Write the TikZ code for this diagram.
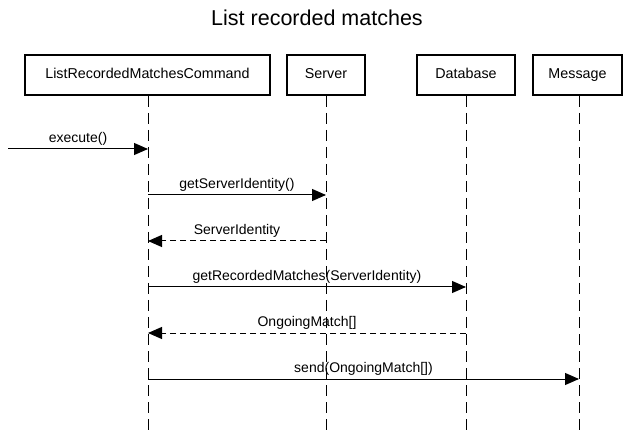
\documentclass[tikz,border=0pt]{standalone}
\usepackage{fontspec}
\setmainfont{Liberation Sans}
\usetikzlibrary{arrows.meta}
\begin{document}
\begin{tikzpicture}[x=1pt,y=-1pt,
  actor/.style={draw, line width=2pt, minimum height=40pt, inner sep=0pt, text height=10.5pt, text depth=3pt, font=\fontsize{14.3}{16}\selectfont},
  life/.style={line width=1pt, dash pattern=on 11pt off 6pt},
  call/.style={line width=1pt, -{Triangle[length=14pt,width=12pt]}},
  reply/.style={line width=1pt, dash pattern=on 6pt off 4pt, -{Triangle[length=14pt,width=12pt]}},
  lbl/.style={above=2pt, font=\fontsize{14}{16}\selectfont, inner sep=1pt}
]
\useasboundingbox (0,0) rectangle (634,435);
\node[font=\fontsize{21.5}{24}\selectfont] (title) at (317,18) {List recorded matches};

\node[actor, minimum width=245pt] (lrm) at (147.5,75) {ListRecordedMatchesCommand};
\node[actor, minimum width=78pt] (srv) at (326,75) {Server};
\node[actor, minimum width=98pt] (db) at (466,75) {Database};
\node[actor, minimum width=89pt] (msg) at (577.5,75) {Message};

\coordinate (lrmE) at (148,432);
\coordinate (srvE) at (326,432);
\coordinate (dbE) at (466,432);
\coordinate (msgE) at (579,432);
\draw[life] (lrm.south -| lrmE) -- (lrmE);
\draw[life] (srv.south) -- (srvE);
\draw[life] (db.south) -- (dbE);
\draw[life] (msg.south -| msgE) -- (msgE);

% message rows
\coordinate (start) at (8,149);
\coordinate (l1) at (148,149);
\coordinate (l2) at (148,195);
\coordinate (s2) at (326,195);
\coordinate (s3) at (326,241);
\coordinate (l3) at (148,241);
\coordinate (l4) at (148,287);
\coordinate (d4) at (466,287);
\coordinate (d5) at (466,333);
\coordinate (l5) at (148,333);
\coordinate (l6) at (148,379);
\coordinate (m6) at (579,379);

\draw[call] (start) -- node[lbl] {execute()} (l1);
\draw[call] (l2) -- node[lbl] {getServerIdentity()} (s2);
\draw[reply] (s3) -- node[lbl] {ServerIdentity} (l3);
\draw[call] (l4) -- node[lbl] {getRecordedMatches(ServerIdentity)} (d4);
\draw[reply] (d5) -- node[lbl] {OngoingMatch[]} (l5);
\draw[call] (l6) -- node[lbl] {send(OngoingMatch[])} (m6);
\end{tikzpicture}
\end{document}
